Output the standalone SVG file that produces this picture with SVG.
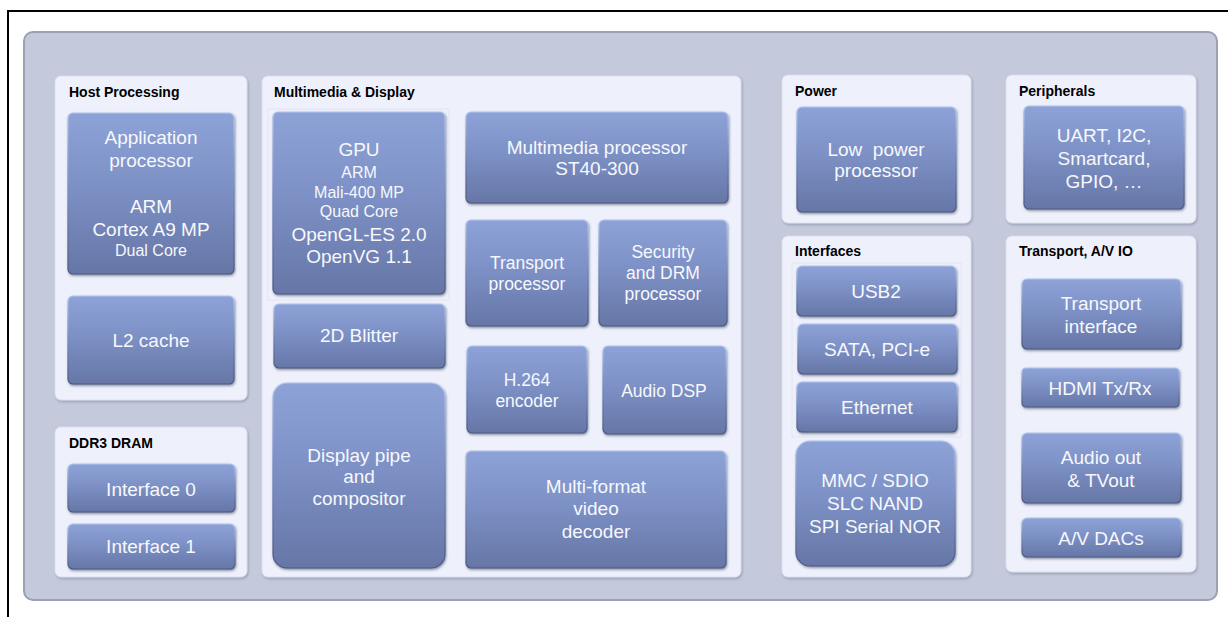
<svg xmlns="http://www.w3.org/2000/svg" width="1228" height="617" viewBox="0 0 1228 617">
<defs>
<linearGradient id="g" x1="0" y1="0" x2="0" y2="1">
<stop offset="0" stop-color="#8da2d7"/>
<stop offset="0.45" stop-color="#7d91c6"/>
<stop offset="1" stop-color="#6676a6"/>
</linearGradient>
<linearGradient id="s" x1="0" y1="0" x2="0" y2="1">
<stop offset="0" stop-color="#b3c4ee"/>
<stop offset="0.5" stop-color="#7387bb"/>
<stop offset="1" stop-color="#4b5880"/>
</linearGradient>
<filter id="sh" x="-10%" y="-10%" width="125%" height="130%">
<feDropShadow dx="0.8" dy="1.5" stdDeviation="1.2" flood-color="#3a4260" flood-opacity="0.55"/>
</filter>
<filter id="psh" x="-5%" y="-5%" width="110%" height="110%">
<feDropShadow dx="1" dy="1.5" stdDeviation="1" flood-color="#8f95a8" flood-opacity="0.8"/>
</filter>
</defs>
<style>
.bx{fill:url(#g);stroke:url(#s);stroke-width:1.2;filter:url(#sh)}
.pn{fill:#eef1fb;stroke:#dde1ee;stroke-width:1;filter:url(#psh)}
.grp{fill:none;stroke:#e2e6f2;stroke-width:1}
.t{font-family:"Liberation Sans",Arial,sans-serif;font-size:19px;fill:#f7f8fc;text-anchor:middle}
.m{font-size:17.5px}
.sm{font-size:16px}
.hd{font-family:"Liberation Sans",Arial,sans-serif;font-size:14px;font-weight:bold;fill:#000}
</style>
<rect width="1228" height="617" fill="#ffffff"/>
<path d="M8,617 V11 H1228" fill="none" stroke="#000" stroke-width="2"/>
<rect id="chip" x="24" y="32" width="1193" height="568" rx="9" fill="#c4c9dc" stroke="#9ba0b2" stroke-width="2"/>

<g id="host-processing">
<rect class="pn" x="55" y="76" width="192" height="324" rx="6"/>
<text class="hd" x="69" y="97">Host Processing</text>
</g>
<g id="ddr3-dram">
<rect class="pn" x="55" y="427" width="192" height="150" rx="6"/>
<text class="hd" x="69" y="448">DDR3 DRAM</text>
</g>
<g id="multimedia-display">
<rect class="pn" x="262" y="76" width="479" height="501" rx="6"/>
<text class="hd" x="274" y="97">Multimedia &amp; Display</text>
<rect class="grp" x="268" y="109" width="181" height="191"/>
</g>
<g id="power">
<rect class="pn" x="782" y="75" width="189" height="148" rx="6"/>
<text class="hd" x="795" y="96">Power</text>
</g>
<g id="peripherals">
<rect class="pn" x="1006" y="75" width="190" height="148" rx="6"/>
<text class="hd" x="1019" y="96">Peripherals</text>
</g>
<g id="interfaces">
<rect class="pn" x="782" y="236" width="189" height="341" rx="6"/>
<text class="hd" x="795" y="256">Interfaces</text>
<rect class="grp" x="792" y="263" width="169" height="174"/>
</g>
<g id="transport-av-io">
<rect class="pn" x="1006" y="236" width="190" height="336" rx="6"/>
<text class="hd" x="1019" y="256">Transport, A/V IO</text>
</g>

<g id="application-processor">
<rect class="bx" x="68" y="113" width="166" height="161" rx="5"/>
<text class="t" x="151" y="144">Application</text>
<text class="t" x="151" y="167">processor</text>
<text class="t" x="151" y="213">ARM</text>
<text class="t" x="151" y="236">Cortex A9 MP</text>
<text class="t sm" x="151" y="256">Dual Core</text>
</g>
<g id="l2-cache">
<rect class="bx" x="68" y="296" width="166" height="88" rx="5"/>
<text class="t" x="151" y="347">L2 cache</text>
</g>
<g id="interface-0">
<rect class="bx" x="68" y="464" width="167" height="48" rx="5"/>
<text class="t" x="151" y="496">Interface 0</text>
</g>
<g id="interface-1">
<rect class="bx" x="68" y="524" width="167" height="45" rx="5"/>
<text class="t" x="151" y="553">Interface 1</text>
</g>

<g id="gpu">
<rect class="bx" x="273" y="112" width="172" height="182" rx="5"/>
<text class="t" x="359" y="156">GPU</text>
<text class="t sm" x="359" y="178">ARM</text>
<text class="t sm" x="359" y="198">Mali-400 MP</text>
<text class="t sm" x="359" y="217">Quad Core</text>
<text class="t" x="359" y="241">OpenGL-ES 2.0</text>
<text class="t" x="359" y="263">OpenVG 1.1</text>
</g>
<g id="blitter-2d">
<rect class="bx" x="274" y="304" width="171" height="64" rx="5"/>
<text class="t" x="359" y="342">2D Blitter</text>
</g>
<g id="display-pipe">
<rect class="bx" x="273" y="383" width="172" height="185" rx="14"/>
<text class="t" x="359" y="462">Display pipe</text>
<text class="t" x="359" y="483">and</text>
<text class="t" x="359" y="505">compositor</text>
</g>
<g id="multimedia-processor">
<rect class="bx" x="466" y="112" width="262" height="91" rx="5"/>
<text class="t" x="597" y="154">Multimedia processor</text>
<text class="t" x="597" y="175">ST40-300</text>
</g>
<g id="transport-processor">
<rect class="bx" x="466" y="220" width="122" height="106" rx="5"/>
<text class="t m" x="527" y="269">Transport</text>
<text class="t m" x="527" y="290">processor</text>
</g>
<g id="security-drm">
<rect class="bx" x="599" y="220" width="128" height="106" rx="5"/>
<text class="t m" x="663" y="258">Security</text>
<text class="t m" x="663" y="279">and DRM</text>
<text class="t m" x="663" y="300">processor</text>
</g>
<g id="h264-encoder">
<rect class="bx" x="467" y="346" width="120" height="87" rx="5"/>
<text class="t m" x="527" y="386">H.264</text>
<text class="t m" x="527" y="407">encoder</text>
</g>
<g id="audio-dsp">
<rect class="bx" x="603" y="346" width="123" height="88" rx="5"/>
<text class="t m" x="664" y="397">Audio DSP</text>
</g>
<g id="video-decoder">
<rect class="bx" x="466" y="451" width="260" height="117" rx="5"/>
<text class="t" x="596" y="493">Multi-format</text>
<text class="t" x="596" y="515">video</text>
<text class="t" x="596" y="538">decoder</text>
</g>

<g id="low-power-processor">
<rect class="bx" x="797" y="107" width="159" height="105" rx="5"/>
<text class="t" x="876" y="156" xml:space="preserve">Low  power</text>
<text class="t" x="876" y="177">processor</text>
</g>
<g id="peripheral-io">
<rect class="bx" x="1024" y="106" width="160" height="103" rx="5"/>
<text class="t" x="1104" y="142">UART, I2C,</text>
<text class="t" x="1104" y="165">Smartcard,</text>
<text class="t" x="1104" y="188">GPIO, …</text>
</g>

<g id="usb2">
<rect class="bx" x="797" y="266" width="159" height="50" rx="5"/>
<text class="t" x="876" y="298">USB2</text>
</g>
<g id="sata-pcie">
<rect class="bx" x="798" y="324" width="159" height="50" rx="5"/>
<text class="t" x="877" y="356">SATA, PCI-e</text>
</g>
<g id="ethernet">
<rect class="bx" x="797" y="382" width="160" height="50" rx="5"/>
<text class="t" x="877" y="414">Ethernet</text>
</g>
<g id="mmc-sdio">
<rect class="bx" x="796" y="441" width="159" height="125" rx="14"/>
<text class="t" x="875" y="487">MMC / SDIO</text>
<text class="t" x="875" y="510">SLC NAND</text>
<text class="t" x="875" y="533">SPI Serial NOR</text>
</g>

<g id="transport-interface">
<rect class="bx" x="1022" y="279" width="159" height="70" rx="5"/>
<text class="t" x="1101" y="310">Transport</text>
<text class="t" x="1101" y="333">interface</text>
</g>
<g id="hdmi">
<rect class="bx" x="1022" y="368" width="157" height="39" rx="4"/>
<text class="t" x="1100" y="395">HDMI Tx/Rx</text>
</g>
<g id="audio-tv-out">
<rect class="bx" x="1022" y="433" width="159" height="70" rx="5"/>
<text class="t" x="1101" y="464">Audio out</text>
<text class="t" x="1101" y="487">&amp; TVout</text>
</g>
<g id="av-dacs">
<rect class="bx" x="1022" y="518" width="159" height="39" rx="5"/>
<text class="t" x="1101" y="545">A/V DACs</text>
</g>

<g id="connectors"/>
</svg>
